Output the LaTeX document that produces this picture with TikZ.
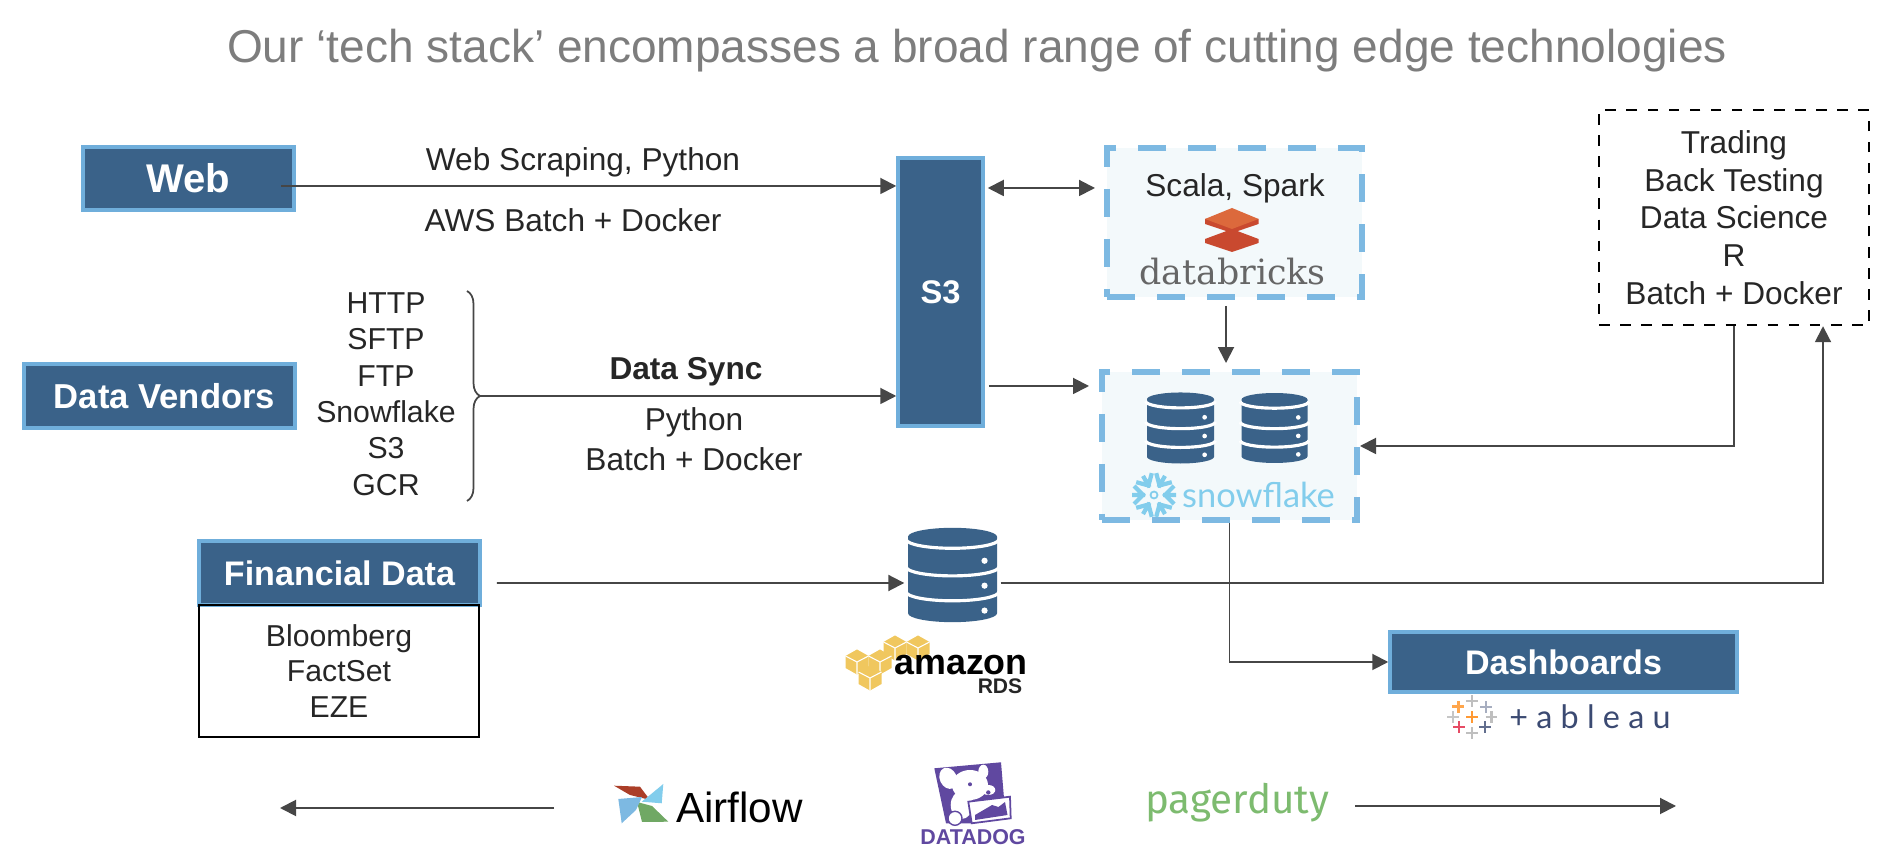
\documentclass[tikz,border=0pt]{standalone}
\usepackage{fontspec}
\setmainfont{Liberation Sans}
\newfontfamily\latofont{Lato}
\newfontfamily\firafont{Fira Sans}
\newfontfamily\serifwide{DejaVu Serif}
\usetikzlibrary{arrows.meta, positioning, decorations.pathreplacing, calc}
\definecolor{boxblue}{RGB}{58,98,137}
\definecolor{edgeblue}{RGB}{111,174,219}
\definecolor{dashblue}{RGB}{125,185,226}
\definecolor{paleblue}{RGB}{243,249,251}
\definecolor{titlegray}{RGB}{125,125,125}
\definecolor{linegray}{RGB}{70,70,70}
\definecolor{brickred}{RGB}{201,73,47}
\definecolor{brickorange}{RGB}{220,105,60}
\definecolor{flakeblue}{RGB}{130,205,236}
\definecolor{cubegold}{RGB}{240,199,94}
\definecolor{dogpurple}{RGB}{96,72,160}
\definecolor{dutygreen}{RGB}{125,187,111}
\definecolor{tabnavy}{RGB}{59,74,114}
\newcommand{\fs}[2]{\fontsize{#1}{#2}\selectfont}

\begin{document}
\begin{tikzpicture}[
    solidbox/.style={rectangle, draw=edgeblue, line width=1pt, fill=boxblue, text=white, align=center, font=\fs{9.7}{12}\bfseries},
    flowbox/.style={rectangle, draw=dashblue, line width=1.7pt, fill=paleblue, dash pattern=on .28cm off .22cm},
    label/.style={align=center, font=\fs{9}{11}, text=black!85},
    arrow/.style={-{Triangle[length=.16cm,width=.16cm]}, line width=.55pt, color=linegray},
    biarrow/.style={{Triangle[length=.16cm,width=.16cm]}-{Triangle[length=.16cm,width=.16cm]}, line width=.55pt, color=linegray},
    dbstack/.pic={
        \fill[boxblue] (-.5,.43) arc[start angle=180, end angle=0, x radius=.5, y radius=.1]
            -- (.5,-.43) arc[start angle=360, end angle=180, x radius=.5, y radius=.1] -- cycle;
        \foreach \yy in {.40, .09, -.19}
            \draw[white, line width=.9pt] (-.52,\yy) arc[start angle=180, end angle=360, x radius=.52, y radius=.1];
        \foreach \yy in {.16, -.12, -.40}
            \fill[white] (.36,\yy) circle (.035);
    },
    goldcube/.pic={
        \fill[cubegold] (-.115,.06) -- (0,.125) -- (.115,.06) -- (.115,-.06) -- (0,-.125) -- (-.115,-.06) -- cycle;
        \draw[white, line width=.3pt] (0,0) -- (0,-.125) (0,0) -- (-.115,.06) (0,0) -- (.115,.06);
    },
    tabcross/.pic={
        \draw[line width=.7pt] (-.07,0) -- (.07,0) (0,-.07) -- (0,.07);
    }
]
\useasboundingbox (0,0) rectangle (19.02,8.46);
\node[font=\fs{13.1}{16}, text=titlegray] (title) at (9.77, 7.95) {Our ‘tech stack’ encompasses a broad range of cutting edge technologies};

% sources
\node[solidbox, font=\fs{11.4}{13}\bfseries, minimum width=2.11cm, minimum height=.63cm] (web) at (1.885, 6.675) {Web};
\node[solidbox, font=\fs{9.85}{12}\bfseries, minimum width=2.71cm, minimum height=.64cm] (vendors) at (1.595, 4.50) {\hspace*{.1cm}Data Vendors};
\node[solidbox, minimum width=2.81cm, minimum height=.64cm] (fin) at (3.395, 2.73) {Financial Data};
\node[rectangle, draw=black, line width=.8pt, align=center, font=\fs{8.6}{10.2}, text=black!85, minimum width=2.80cm, minimum height=1.32cm] (finlist) at (3.39, 1.75) {Bloomberg\\FactSet\\EZE};
\node[label, font=\fs{8.6}{10.35}] (protos) at (3.86, 4.52) {HTTP\\SFTP\\FTP\\Snowflake\\S3\\GCR};

% storage
\node[solidbox, font=\fs{9.3}{11}\bfseries, minimum width=.85cm, minimum height=2.68cm] (s3) at (9.405, 5.54) {S3};
\node[flowbox, minimum width=2.55cm, minimum height=1.49cm] (dbricks) at (12.345, 6.235) {};
\node[flowbox, minimum width=2.55cm, minimum height=1.48cm] (snow) at (12.295, 4.00) {};
\node[rectangle, draw=black, line width=.7pt, dashed, align=center, font=\fs{9}{10.75}, text=black!85, minimum width=2.70cm, minimum height=2.15cm] (trading) at (17.34, 6.285) {Trading\\Back Testing\\Data Science\\R\\Batch + Docker};
\node[solidbox, minimum width=3.47cm, minimum height=.60cm] (dash) at (15.635, 1.84) {Dashboards};

% labels
\node[label] (scrape) at (5.83, 6.835) {Web Scraping, Python};
\node[label] (aws) at (5.73, 6.26) {AWS Batch + Docker};
\node[label, font=\fs{9}{11}\bfseries] (sync) at (6.86, 4.745) {Data Sync};
\node[label, font=\fs{9}{11.3}] (syncrun) at (6.94, 4.07) {Python\\Batch + Docker};
\node[label] (scala) at (12.35, 6.575) {Scala, Spark};

% databricks logo
\fill[brickred] (12.05,6.07) -- (12.32,6.17) -- (12.585,6.07) -- (12.585,6.03) -- (12.32,5.94) -- (12.05,6.03) -- cycle;
\fill[brickred] (12.05,6.27) -- (12.585,6.27) -- (12.585,6.22) -- (12.32,6.13) -- (12.05,6.22) -- cycle;
\fill[brickorange] (12.05,6.27) -- (12.32,6.38) -- (12.585,6.27) -- (12.32,6.17) -- cycle;
\node[font=\fs{9.9}{12}\serifwide, text=black!60] (dbrickstext) at (12.325, 5.74) {databricks};

% snowflake logo
\pic[scale=.67] at (11.805, 4.18) {dbstack};
\pic[scale=.66] at (12.745, 4.18) {dbstack};
\foreach \ang in {0,60,...,300}
    \draw[flakeblue, line width=1.2pt, rotate around={\ang:(11.54,3.51)}]
        (11.63,3.51) -- (11.76,3.51) (11.74,3.60) -- (11.65,3.51) -- (11.74,3.42);
\draw[flakeblue, line width=.5pt] (11.54,3.51) circle (.035);
\node[font=\fs{9.8}{12}\latofont, text=flakeblue] (snowtext) at (12.585, 3.51) {snowflake};

% rds
\node[minimum width=.89cm, minimum height=.94cm, inner sep=0pt] (rdsdb) at (9.525, 2.71) {};
\pic[scale=.89] at (rdsdb.center) {dbstack};
\foreach \cx/\cy in {8.95/1.98, 9.18/1.98, 8.57/1.84, 8.80/1.84, 8.70/1.68}
    \pic at (\cx,\cy) {goldcube};
\node[font=\fs{10.2}{12}\bfseries] (amazon) at (9.61, 1.81) {amazon};
\node[font=\fs{6}{7}\bfseries, text=black!85] (rdstext) at (10.00, 1.60) {RDS};

% tableau logo
\foreach \tx/\ty/\tc in {-.137/.103/orange!70, 0/.16/gray!50, .14/.10/tabnavy!45, -.19/0/gray!45, 0/0/orange!80, .195/0/gray!50, -.13/-.10/red!45!purple!70, 0/-.16/gray!50, .13/-.10/tabnavy!80}
    \pic[color=\tc, scale=.85] at ($(14.72,1.29)+(\tx,\ty)$) {tabcross};
\node[font=\fs{9.2}{11}\latofont, text=tabnavy] (tabtext) at (15.90, 1.29) {+ a b l e a u};

% bottom row
\fill[brickred!85!black] (6.14,.603) -- (6.40,.593) -- (6.50,.46) -- (6.30,.51) -- cycle;
\fill[flakeblue] (6.633,.62) -- (6.617,.427) -- (6.417,.443) -- (6.50,.51) -- cycle;
\fill[dutygreen!90!black] (6.683,.243) -- (6.42,.24) -- (6.37,.44) -- (6.52,.40) -- cycle;
\fill[dashblue] (6.217,.227) -- (6.183,.47) -- (6.42,.49) -- (6.36,.36) -- cycle;
\node[font=\fs{12}{14}] (airflow) at (7.395, .39) {Airflow};
\fill[dogpurple] (9.343,.777) -- (10.01,.837) -- (10.04,.477) -- (9.73,.227) -- (9.46,.227) -- cycle;
\fill[white] (9.70,.61) ellipse (.18 and .15);
\fill[white] (9.883,.56) ellipse (.07 and .05);
\fill[white] (9.833,.743) ellipse (.05 and .07);
\fill[white] (9.617,.41) ellipse (.11 and .14);
\fill[white, rotate around={25:(9.483,.677)}] (9.483,.677) ellipse (.085 and .11);
\draw[dogpurple, line width=.4pt, fill=white] (9.55,.277) circle (.07);
\fill[dogpurple] (9.70,.617) circle (.02) (9.883,.535) circle (.022);
\draw[dogpurple, line width=.5pt, fill=white] (9.683,.443) -- (10.10,.493) -- (10.107,.277) -- (9.717,.227) -- cycle;
\fill[dogpurple] (9.75,.26) -- (9.75,.31) -- (9.87,.38) -- (9.92,.41) -- (9.985,.39) -- (10.05,.44) -- (10.075,.31) -- cycle;
\node[font=\fs{6.1}{7}\bfseries, text=dogpurple, inner sep=0pt] (datadog) at (9.73, .09) {DATADOG};
\node[font=\fs{11.5}{14}\firafont, text=dutygreen] (pager) at (12.37, .43) {pagerduty};

% connectors
\coordinate (webout) at (2.81, 6.60);
\coordinate (dbin) at (10.95, 6.58);
\coordinate (snowin) at (10.89, 4.60);
\coordinate (bracetip) at (4.80, 4.50);
\coordinate (leftstart) at (5.54, .38);
\coordinate (leftend) at (2.80, .38);
\coordinate (rightend) at (16.76, .40);
\draw[arrow] (webout) -- (s3.west |- webout);
\draw[biarrow] ([xshift=.03cm]s3.east |- dbin) -- (dbin);
\draw[arrow] ([xshift=.04cm]s3.east |- snowin) -- (snowin);
\draw[arrow] ([xshift=-.085cm,yshift=-.06cm]dbricks.south) -- ([xshift=-.035cm,yshift=.06cm]snow.north);
\draw[linegray, line width=.5pt, decorate, decoration={brace, amplitude=.13cm}] (4.67, 5.55) -- (4.67, 3.45);
\draw[arrow] (bracetip) -- (s3.west |- bracetip);
\draw[arrow] (trading.south) |- (snow.east);
\draw[arrow] ([xshift=.15cm,yshift=-.10cm]fin.east) -- ([xshift=-.03cm,yshift=-.08cm]rdsdb.west);
\draw[arrow] ([xshift=.03cm,yshift=-.08cm]rdsdb.east) -| ([xshift=.89cm]trading.south);
\draw[arrow] (snow.south) |- (dash.west);
\draw[arrow] (leftstart) -- (leftend);
\draw[arrow] ([xshift=.14cm,yshift=-.03cm]pager.east) -- (rightend);
\end{tikzpicture}
\end{document}
